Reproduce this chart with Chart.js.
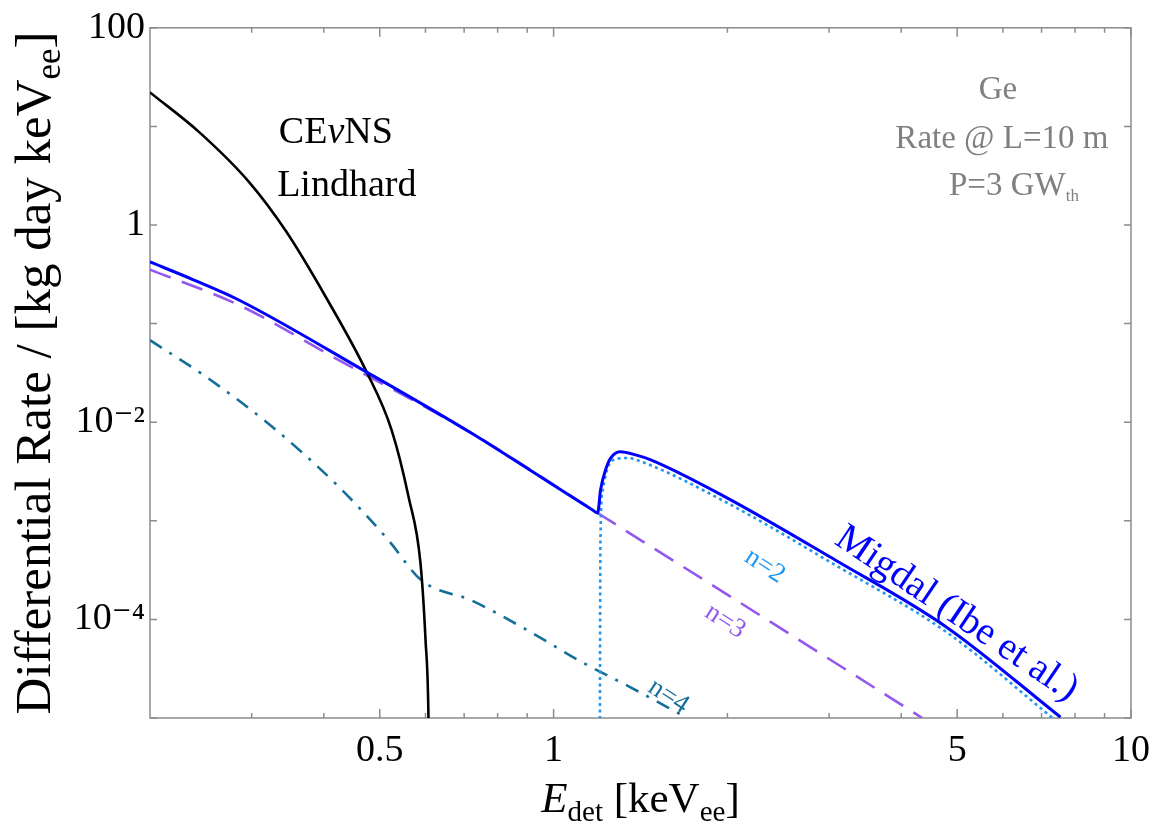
<!DOCTYPE html>
<html>
<head>
<meta charset="UTF-8">
<title>Migdal rate Ge</title>
<script src="https://cdn.jsdelivr.net/npm/chart.js@4.4.1/dist/chart.umd.min.js"></script>
<style>
  body { margin: 0; background: #fff; }
</style>
</head>
<body>
<canvas id="rate-chart" width="1160" height="824"></canvas>
<script>
    // values (keV_ee, events / kg day keV_ee)
    var energyCevns = [0.2, 0.2436, 0.2972, 0.3441, 0.4034, 0.4746, 0.5242, 0.5609, 0.5881, 0.6001, 0.6072, 0.6096];
    var rateCevns = [22.1, 8.7, 2.71, 0.863, 0.185, 0.0322, 0.00832, 0.00174, 3.73e-4, 6.19e-5, 1.0e-5, 1e-6];

    var energyMigdal = [0.2, 0.2372, 0.2856, 0.4746, 0.7202, 0.95, 1.17, 1.192, 1.206, 1.23, 1.2556, 1.304, 1.3917, 1.477, 1.982, 3.079, 4.786, 7.55];
    var rateMigdal = [0.4217, 0.28, 0.1726, 0.0322, 0.00776, 0.00278, 0.00128, 0.0012, 0.00206, 0.00327, 0.00432, 0.00501, 0.00464, 0.00413, 0.00175, 3.98e-4, 8.39e-5, 1.02e-5];

    var energyN2 = [1.2025, 1.203, 1.2055, 1.216, 1.24, 1.2807, 1.343, 1.426, 1.982, 3.079, 4.786, 7.316];
    var rateN2 = [1e-6, 1e-5, 6.4e-4, 0.00205, 0.00343, 0.00423, 0.00433, 0.00394, 0.00156, 3.54e-4, 7.47e-5, 1e-5];

    var energyN3 = [0.2, 0.2856, 0.4246, 0.7202, 1.192, 2.296, 4.35];
    var rateN3 = [0.353, 0.1535, 0.0426, 0.00776, 0.0012, 1.07e-4, 1e-5];

    var energyN4 = [0.2, 0.2502, 0.3256, 0.4247, 0.5179, 0.5904, 0.7202, 0.8783, 1.126, 1.354, 1.704];
    var rateN4 = [0.0679, 0.0288, 0.00898, 0.00221, 6.33e-4, 2.49e-4, 1.56e-4, 8.45e-5, 3.62e-5, 2.07e-5, 1.0e-5];

    var xTickValues = [0.3, 0.4, 0.5, 0.6, 0.7, 0.8, 0.9, 1, 2, 3, 4, 5, 6, 7, 8, 9, 10];
    var xTickLabels = ['', '', '0.5', '', '', '', '', '1', '', '', '', '5', '', '', '', '', '10'];
    var xMajor = [0.5, 1, 5, 10];
    var yTickValues = [1e-5, 1e-4, 1e-3, 1e-2, 0.1, 1, 10, 100];
    var yTickLabels = ['', '10\u207B\u2074', '', '10\u207B\u00B2', '', '1', '', '100'];

    var serif = "'Liberation Serif', 'DejaVu Serif', serif";

    function points(xs, ys) {
        return xs.map(function (x, i) { return { x: x, y: ys[i] }; });
    }

    // text on the plot, placed at data coordinates (centre of the text)
    var notes = [
        { parts: [{ text: 'CE' }, { text: '\u03BD', italic: true }, { text: 'NS' }], x: 0.4197, y: 9.11, size: 38, color: '#000' },
        { parts: [{ text: 'Lindhard' }], x: 0.4384, y: 2.646, size: 38, color: '#000' },
        { parts: [{ text: 'Ge' }], x: 5.883, y: 24.27, size: 33, color: '#808080' },
        { parts: [{ text: 'Rate @ L=10 m' }], x: 5.976, y: 7.735, size: 33, color: '#808080' },
        { parts: [{ text: 'P=3 GW' }, { text: 'th', scale: 0.5, shift: 0.18 }], x: 6.27, y: 2.584, size: 33, color: '#808080' },
        { parts: [{ text: 'Migdal (Ibe et al.)' }], x: 5.017, y: 1.2e-4, size: 39, color: '#0000ff', angle: 34 },
        { parts: [{ text: 'n=2' }], x: 2.33, y: 3.6e-4, size: 27, color: '#1f96f0', angle: 33 },
        { parts: [{ text: 'n=3' }], x: 1.99, y: 9.9e-5, size: 27, color: '#9457f0', angle: 33 },
        { parts: [{ text: 'n=4' }], x: 1.587, y: 1.72e-5, size: 27, color: '#166f98', angle: 33 }
    ];

    function drawRich(ctx, parts, x, y, size, color, angle) {
        ctx.save();
        ctx.translate(x, y);
        ctx.rotate(angle || 0);
        ctx.fillStyle = color;
        ctx.textBaseline = 'alphabetic';
        ctx.textAlign = 'left';
        var total = 0;
        parts.forEach(function (p) {
            ctx.font = (p.italic ? 'italic ' : '') + Math.round(size * (p.scale || 1)) + 'px ' + serif;
            p.w = ctx.measureText(p.text).width;
            total += p.w;
        });
        var cx = -total / 2;
        parts.forEach(function (p) {
            ctx.font = (p.italic ? 'italic ' : '') + Math.round(size * (p.scale || 1)) + 'px ' + serif;
            ctx.fillText(p.text, cx, (p.shift || 0) * size);
            cx += p.w;
        });
        ctx.restore();
    }

    var frame = {
        id: 'frame',
        beforeDatasetsDraw: function (chart) {
            var a = chart.chartArea, ctx = chart.ctx, xs = chart.scales.x, ys = chart.scales.y;
            ctx.save();
            ctx.strokeStyle = '#8c8c8c';
            ctx.lineWidth = 1.5;
            ctx.strokeRect(a.left, a.top, a.right - a.left, a.bottom - a.top);
            ctx.beginPath();
            xTickValues.forEach(function (v) {
                var px = xs.getPixelForValue(v);
                var len = xMajor.indexOf(v) >= 0 ? 9 : 5;
                ctx.moveTo(px, a.bottom);
                ctx.lineTo(px, a.bottom - len);
                ctx.moveTo(px, a.top);
                ctx.lineTo(px, a.top + len);
            });
            yTickValues.forEach(function (v) {
                var py = ys.getPixelForValue(v);
                ctx.moveTo(a.left, py);
                ctx.lineTo(a.left + 7, py);
                ctx.moveTo(a.right, py);
                ctx.lineTo(a.right - 7, py);
            });
            ctx.stroke();
            ctx.restore();
        },
        afterDraw: function (chart) {
            var a = chart.chartArea, ctx = chart.ctx, xs = chart.scales.x, ys = chart.scales.y;
            notes.forEach(function (n) {
                var px = xs.getPixelForValue(n.x), py = ys.getPixelForValue(n.y);
                var ang = (n.angle || 0) * Math.PI / 180;
                ctx.save();
                ctx.translate(px, py);
                ctx.rotate(ang);
                drawRich(ctx, n.parts, 0, 0.33 * n.size, n.size, n.color, 0);
                ctx.restore();
            });
            // axis titles
            drawRich(ctx, [{ text: 'E', italic: true }, { text: 'det', scale: 0.68, shift: 0.2 }, { text: ' [keV' },
                { text: 'ee', scale: 0.68, shift: 0.2 }, { text: ']' }],
                (a.left + a.right) / 2, 812, 43, '#000', 0);
            drawRich(ctx, [{ text: 'Differential Rate / [kg day keV' }, { text: 'ee', scale: 0.68, shift: 0.2 }, { text: ']' }],
                50, (a.top + a.bottom) / 2, 51, '#000', -Math.PI / 2);
        }
    };

    var chart = new Chart(document.getElementById('rate-chart'), {
        type: 'line',
        data: {
            datasets: [{
                data: points(energyMigdal, rateMigdal),
                borderColor: '#0000ff',
                borderWidth: 3,
                cubicInterpolationMode: 'monotone'
            }, {
                data: points(energyCevns, rateCevns),
                borderColor: '#000000',
                borderWidth: 2.6,
                cubicInterpolationMode: 'monotone'
            }, {
                data: points(energyN2, rateN2),
                borderColor: '#1f96f0',
                borderWidth: 2.6,
                borderDash: [3, 3.5],
                cubicInterpolationMode: 'monotone'
            }, {
                data: points(energyN3, rateN3),
                borderColor: '#9457f0',
                borderWidth: 2.6,
                borderDash: [22, 12],
                cubicInterpolationMode: 'monotone'
            }, {
                data: points(energyN4, rateN4),
                borderColor: '#166f98',
                borderWidth: 2.6,
                borderDash: [14, 9, 3, 9],
                cubicInterpolationMode: 'monotone'
            }]
        },
        options: {
            responsive: false,
            animation: false,
            devicePixelRatio: 1,
            layout: { padding: { top: 27, right: 24, left: 0, bottom: 0 } },
            elements: { point: { radius: 0 } },
            plugins: { legend: { display: false }, tooltip: { enabled: false } },
            scales: {
                x: {
                    type: 'logarithmic',
                    min: 0.2,
                    max: 10,
                    grid: { display: false, drawTicks: false },
                    border: { display: false },
                    afterBuildTicks: function (s) {
                        s.ticks = xTickValues.map(function (v) { return { value: v }; });
                    },
                    afterFit: function (s) { s.height = 106; },
                    ticks: {
                        autoSkip: false,
                        maxRotation: 0,
                        padding: 10,
                        color: '#000',
                        font: { family: serif, size: 38 },
                        callback: function (v, i) { return xTickLabels[i]; }
                    }
                },
                y: {
                    type: 'logarithmic',
                    min: 1e-5,
                    max: 100,
                    grid: { display: false, drawTicks: false },
                    border: { display: false },
                    afterBuildTicks: function (s) {
                        s.ticks = yTickValues.map(function (v) { return { value: v }; });
                    },
                    afterFit: function (s) { s.width = 150; },
                    ticks: {
                        autoSkip: false,
                        padding: 5,
                        color: '#000',
                        font: { family: serif, size: 38 },
                        callback: function (v, i) { return yTickLabels[i]; }
                    }
                }
            }
        },
        plugins: [frame]
    });
</script>
</body>
</html>
